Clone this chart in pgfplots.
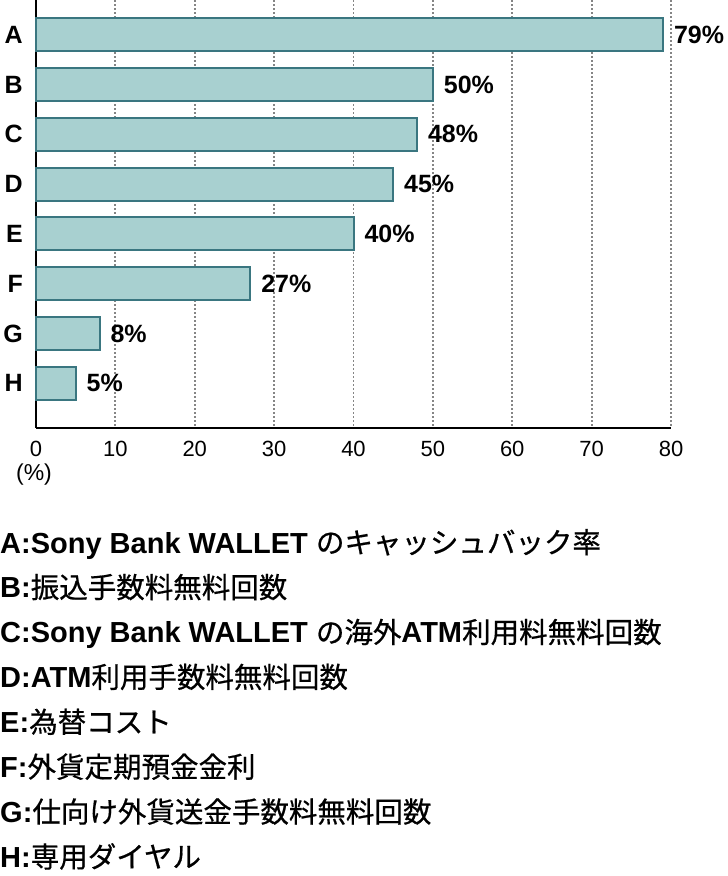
\documentclass[border=0pt]{standalone}
\usepackage{pgfplots}
\pgfplotsset{compat=1.18}
\usepackage{fontspec}
\setmainfont{Liberation Sans}
\newfontfamily\cjk{Noto Sans CJK JP}[FakeBold=0.6]
\definecolor{barfill}{HTML}{A8D0D0}
\definecolor{baredge}{HTML}{3A7680}
\definecolor{gridgray}{HTML}{858585}
\newcommand\jp[1]{{\cjk\fontsize{28.5bp}{32bp}\selectfont #1}}
\newcommand\lt[1]{{\bfseries\fontsize{29bp}{32bp}\selectfont #1}}

\begin{document}
\begin{tikzpicture}
\useasboundingbox (0,0) rectangle (728bp,-876bp);
\begin{axis}[
    at={(36bp,0bp)}, anchor=north west,
    scale only axis, width=635bp, height=428bp,
    xbar, bar width=0.66,
    xmin=0, xmax=80,
    ymin=-0.7, ymax=7.9, y dir=reverse,
    axis x line=bottom, axis y line=left,
    axis line style={-, line width=2bp, black},
    xtick={0,10,...,80},
    ytick={0,...,7},
    yticklabels={A,B,C,D,E,F,G,H},
    major tick length=0,
    xmajorgrids,
    grid style={gridgray, dash pattern=on 2bp off 2bp, line width=1.8bp},
    /pgf/number format/assume math mode=true,
    xticklabel style={font=\fontsize{22bp}{22bp}\selectfont, inner sep=0pt, yshift=-13bp},
    yticklabel style={font=\bfseries\fontsize{25bp}{25bp}\selectfont, inner sep=0pt, xshift=-13bp},
    nodes near coords={\pgfmathprintnumber{\pgfplotspointmeta}\%},
    nodes near coords style={font=\bfseries\fontsize{25bp}{25bp}\selectfont, anchor=west, inner sep=0pt, xshift=10bp},
    clip=false,
]
\addplot[fill=barfill, draw=baredge, line width=2bp]
    coordinates {(79,0) (50,1) (48,2) (45,3) (40,4) (27,5) (8,6) (5,7)};
\end{axis}
\node[font=\fontsize{23bp}{23bp}\selectfont, inner sep=0pt] at (34bp,-475bp) {(\%)};
\foreach \t [count=\i from 0] in {
    {\lt{A:Sony Bank WALLET }\jp{のキャッシュバック率}},
    {\lt{B:}\jp{振込手数料無料回数}},
    {\lt{C:Sony Bank WALLET }\jp{の海外}\lt{ATM}\jp{利用料無料回数}},
    {\lt{D:ATM}\jp{利用手数料無料回数}},
    {\lt{E:}\jp{為替コスト}},
    {\lt{F:}\jp{外貨定期預金金利}},
    {\lt{G:}\jp{仕向け外貨送金手数料無料回数}},
    {\lt{H:}\jp{専用ダイヤル}}}
    \node[anchor=base west, inner sep=0pt] at (0bp,{-553bp-44.9bp*\i}) {\t};
\end{tikzpicture}
\end{document}
